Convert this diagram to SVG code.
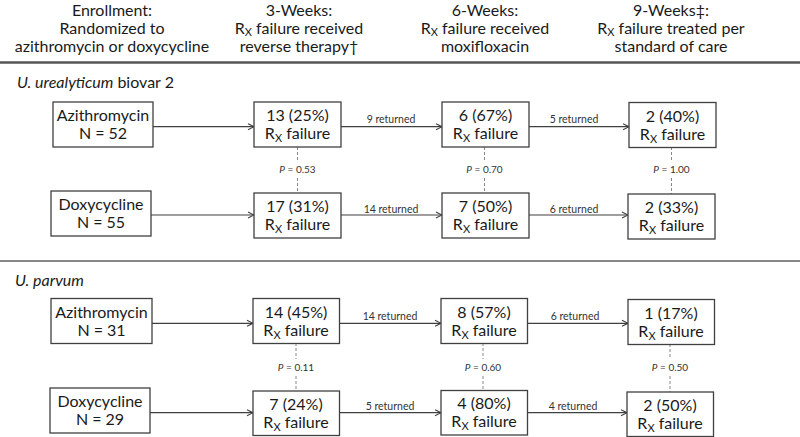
<svg xmlns="http://www.w3.org/2000/svg" width="800" height="437" viewBox="0 0 800 437">
<defs>
<style>
text{font-family:Lato,"Liberation Sans",sans-serif;fill:#1a1a1a}
.h{font-size:16px;text-anchor:middle}
.sec{font-size:16px}
.bt{font-size:16px;text-anchor:middle}
.box{fill:#fff;stroke:#404040;stroke-width:1.3}
.arr{stroke:#404040;stroke-width:1.2;fill:none;marker-end:url(#ah)}
.lbl{font-size:10.5px;text-anchor:middle;fill:#333}
.p{font-size:10px;text-anchor:middle;fill:#333}
.dash{stroke:#888;stroke-width:1;stroke-dasharray:3,2;fill:none}
.sub{font-size:11px}
</style>
<marker id="ah" markerWidth="8" markerHeight="8" refX="7" refY="4" orient="auto" markerUnits="userSpaceOnUse">
<path d="M1,1 L7,4 L1,7" fill="none" stroke="#404040" stroke-width="1.1"/>
</marker>
</defs>
<rect width="800" height="437" fill="#fff"/>
<g id="header">
<text class="h" x="112" y="16">Enrollment:</text>
<text class="h" x="112" y="33.5">Randomized to</text>
<text class="h" x="112" y="51.5">azithromycin or doxycycline</text>
<text class="h" x="299" y="16">3-Weeks:</text>
<text class="h" x="299" y="33.5">R<tspan class="sub" dy="2.5">X</tspan><tspan dy="-2.5"> failure received</tspan></text>
<text class="h" x="299" y="51.5">reverse therapy†</text>
<text class="h" x="485" y="16">6-Weeks:</text>
<text class="h" x="485" y="33.5">R<tspan class="sub" dy="2.5">X</tspan><tspan dy="-2.5"> failure received</tspan></text>
<text class="h" x="485" y="51.5">moxifloxacin</text>
<text class="h" x="671" y="16">9-Weeks‡:</text>
<text class="h" x="671" y="33.5">R<tspan class="sub" dy="2.5">X</tspan><tspan dy="-2.5"> failure treated per</tspan></text>
<text class="h" x="671" y="51.5">standard of care</text>
<line x1="0" y1="62.5" x2="800" y2="62.5" stroke="#555" stroke-width="2.5"/>
<line x1="0" y1="261" x2="800" y2="261" stroke="#888" stroke-width="2"/>
<text class="sec" x="17" y="88"><tspan font-style="italic">U. urealyticum</tspan> biovar 2</text>
<text class="sec" x="15" y="286" font-style="italic">U. parvum</text>
</g>
<g id="connectors">
<line class="arr" x1="153" y1="126.7" x2="254" y2="126.7"/>
<line class="arr" x1="341" y1="126.7" x2="442" y2="126.7"/>
<line class="arr" x1="529" y1="126.7" x2="629" y2="126.7"/>
<line class="arr" x1="151" y1="215" x2="254" y2="215"/>
<line class="arr" x1="341" y1="215" x2="442" y2="215"/>
<line class="arr" x1="529" y1="215" x2="628" y2="215"/>
<line class="arr" x1="152" y1="323.3" x2="253" y2="323.3"/>
<line class="arr" x1="339" y1="323.3" x2="441" y2="323.3"/>
<line class="arr" x1="527" y1="323.3" x2="628" y2="323.3"/>
<line class="arr" x1="150" y1="412.7" x2="253" y2="412.7"/>
<line class="arr" x1="339" y1="412.7" x2="441" y2="412.7"/>
<line class="arr" x1="527" y1="412.7" x2="627" y2="412.7"/>
<text class="lbl" x="391" y="122.5">9 returned</text>
<text class="lbl" x="574" y="122.5">5 returned</text>
<text class="lbl" x="391" y="212.5">14 returned</text>
<text class="lbl" x="574" y="212.5">6 returned</text>
<text class="lbl" x="390" y="320">14 returned</text>
<text class="lbl" x="575" y="320">6 returned</text>
<text class="lbl" x="390" y="409.5">5 returned</text>
<text class="lbl" x="573" y="409.5">4 returned</text>
<path class="dash" d="M297.5,147 V161 M297.5,178 V193 M484.5,147 V161 M484.5,178 V193 M671.5,147 V161 M671.5,178 V194"/>
<path class="dash" d="M296,343 V359 M296,376 V391 M483,343 V359 M483,376 V390 M670,344 V359 M670,376 V392"/>
<text class="p" x="297.5" y="172.5"><tspan font-style="italic">P</tspan> = 0.53</text>
<text class="p" x="484.5" y="172.5"><tspan font-style="italic">P</tspan> = 0.70</text>
<text class="p" x="671.5" y="172.5"><tspan font-style="italic">P</tspan> = 1.00</text>
<text class="p" x="296" y="370.8"><tspan font-style="italic">P</tspan> = 0.11</text>
<text class="p" x="483" y="370.8"><tspan font-style="italic">P</tspan> = 0.60</text>
<text class="p" x="670" y="370.8"><tspan font-style="italic">P</tspan> = 0.50</text>
</g>
<g id="uu-azi"><rect class="box" x="53" y="102" width="100" height="45"/><text class="bt" x="103" y="121">Azithromycin</text><text class="bt" x="103" y="139">N = 52</text></g>
<g id="uu-azi-3w"><rect class="box" x="254" y="102" width="87" height="45"/><text class="bt" x="297.5" y="121">13 (25%)</text><text class="bt" x="297.5" y="139">R<tspan class="sub" dy="3">X</tspan><tspan dy="-3"> failure</tspan></text></g>
<g id="uu-azi-6w"><rect class="box" x="442" y="102" width="87" height="45"/><text class="bt" x="485.5" y="121">6 (67%)</text><text class="bt" x="485.5" y="139">R<tspan class="sub" dy="3">X</tspan><tspan dy="-3"> failure</tspan></text></g>
<g id="uu-azi-9w"><rect class="box" x="629" y="102.5" width="87" height="45"/><text class="bt" x="672.5" y="121.5">2 (40%)</text><text class="bt" x="672.5" y="139.5">R<tspan class="sub" dy="3">X</tspan><tspan dy="-3"> failure</tspan></text></g>
<g id="uu-dox"><rect class="box" x="51" y="191" width="100" height="45"/><text class="bt" x="101" y="210">Doxycycline</text><text class="bt" x="101" y="228">N = 55</text></g>
<g id="uu-dox-3w"><rect class="box" x="254" y="193" width="87" height="45"/><text class="bt" x="297.5" y="212">17 (31%)</text><text class="bt" x="297.5" y="230">R<tspan class="sub" dy="3">X</tspan><tspan dy="-3"> failure</tspan></text></g>
<g id="uu-dox-6w"><rect class="box" x="442" y="193" width="87" height="45"/><text class="bt" x="485.5" y="212">7 (50%)</text><text class="bt" x="485.5" y="230">R<tspan class="sub" dy="3">X</tspan><tspan dy="-3"> failure</tspan></text></g>
<g id="uu-dox-9w"><rect class="box" x="628" y="194" width="87" height="45"/><text class="bt" x="671.5" y="213">2 (33%)</text><text class="bt" x="671.5" y="231">R<tspan class="sub" dy="3">X</tspan><tspan dy="-3"> failure</tspan></text></g>
<g id="up-azi"><rect class="box" x="51" y="298.5" width="101" height="45"/><text class="bt" x="101.5" y="317.5">Azithromycin</text><text class="bt" x="101.5" y="335.5">N = 31</text></g>
<g id="up-azi-3w"><rect class="box" x="253" y="298.5" width="86.5" height="45"/><text class="bt" x="296" y="317.5">14 (45%)</text><text class="bt" x="296" y="335.5">R<tspan class="sub" dy="3">X</tspan><tspan dy="-3"> failure</tspan></text></g>
<g id="up-azi-6w"><rect class="box" x="441" y="298.5" width="86.5" height="45"/><text class="bt" x="484" y="317.5">8 (57%)</text><text class="bt" x="484" y="335.5">R<tspan class="sub" dy="3">X</tspan><tspan dy="-3"> failure</tspan></text></g>
<g id="up-azi-9w"><rect class="box" x="628" y="299.5" width="86.5" height="45"/><text class="bt" x="671" y="318.5">1 (17%)</text><text class="bt" x="671" y="336.5">R<tspan class="sub" dy="3">X</tspan><tspan dy="-3"> failure</tspan></text></g>
<g id="up-dox"><rect class="box" x="50" y="388" width="100" height="45"/><text class="bt" x="100" y="407">Doxycycline</text><text class="bt" x="100" y="425">N = 29</text></g>
<g id="up-dox-3w"><rect class="box" x="253" y="391" width="86.5" height="44.5"/><text class="bt" x="296" y="409.5">7 (24%)</text><text class="bt" x="296" y="427.5">R<tspan class="sub" dy="3">X</tspan><tspan dy="-3"> failure</tspan></text></g>
<g id="up-dox-6w"><rect class="box" x="441" y="390.5" width="86.5" height="44.5"/><text class="bt" x="484" y="409">4 (80%)</text><text class="bt" x="484" y="427">R<tspan class="sub" dy="3">X</tspan><tspan dy="-3"> failure</tspan></text></g>
<g id="up-dox-9w"><rect class="box" x="627" y="392" width="86.5" height="44.5"/><text class="bt" x="670" y="410.5">2 (50%)</text><text class="bt" x="670" y="428.5">R<tspan class="sub" dy="3">X</tspan><tspan dy="-3"> failure</tspan></text></g>
</svg>
